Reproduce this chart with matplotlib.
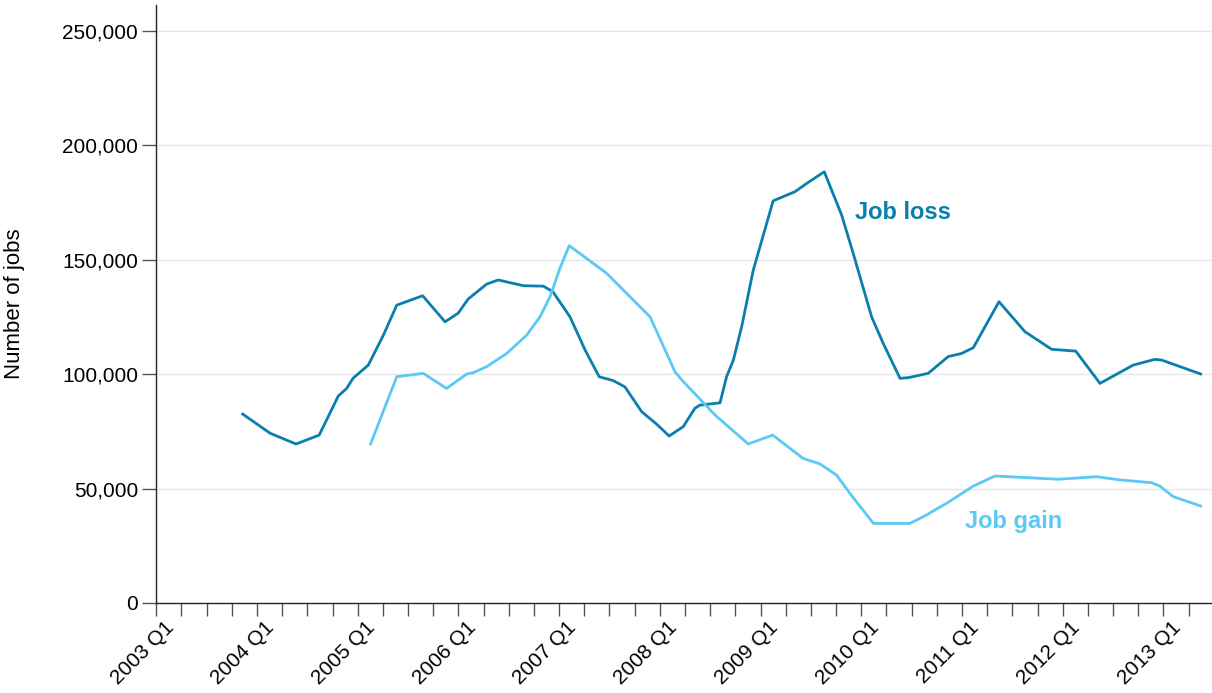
import matplotlib
matplotlib.use("Agg")
import matplotlib.pyplot as plt
from matplotlib.ticker import FuncFormatter
import matplotlib.transforms as mtransforms

plt.rcParams['font.family'] = ['Liberation Sans', 'DejaVu Sans']

# time axis: quarters since 2003 Q1 (points sit mid-quarter)
loss_t = [3.43, 4.52, 5.55, 6.47, 7.23, 7.56, 7.82, 8.42, 9.02, 9.55, 10.58, 11.47,
          11.99, 12.39, 13.12, 13.58, 14.58, 15.37, 15.75, 16.43, 17.03, 17.59, 18.15,
          18.61, 19.28, 19.87, 20.37, 20.93, 21.39, 21.59, 22.39, 22.65, 22.92, 23.25,
          23.71, 24.50, 25.37, 25.83, 26.53, 27.22, 27.68, 28.41, 28.87, 29.54, 29.87,
          30.66, 31.45, 31.99, 32.45, 33.47, 34.50, 35.56, 36.52, 37.48, 38.80, 39.66,
          39.93, 41.48]
loss_val = [82.6, 74.2, 69.5, 73.4, 90.5, 93.8, 98.3, 104.0, 117.1, 130.2, 134.3, 122.9,
            126.7, 132.9, 139.4, 141.2, 138.7, 138.5, 136.1, 125.1, 110.6, 98.9, 97.2,
            94.5, 83.6, 78.2, 73.0, 77.1, 85.1, 86.5, 87.5, 98.9, 106.2, 120.8,
            145.5, 175.8, 179.8, 183.4, 188.5, 169.6, 152.8, 125.1, 113.5, 98.2, 98.5,
            100.4, 107.7, 109.1, 111.6, 131.7, 118.6, 110.9, 110.1, 96.0, 104.0, 106.5,
            106.2, 100.1]

gain_t = [8.51, 9.55, 10.60, 11.53, 12.33, 12.59, 13.12, 13.92, 14.71, 15.24, 15.64,
          16.03, 16.40, 17.89, 19.61, 20.60, 20.87, 22.19, 23.51, 24.48, 25.69, 26.36,
          27.02, 27.55, 28.48, 29.93, 30.46, 31.39, 32.45, 33.31, 34.57, 35.82, 37.35,
          38.27, 39.53, 39.86, 40.39, 41.48]
gain_val = [69.5, 98.9, 100.4, 93.8, 100.1, 100.7, 103.3, 109.1, 117.1, 125.1, 133.9,
            146.3, 156.2, 144.1, 125.1, 101.1, 97.5, 82.2, 69.5, 73.4, 63.2, 60.8,
            55.9, 47.9, 34.8, 34.8, 37.7, 43.6, 51.1, 55.5, 54.8, 54.1, 55.2,
            53.8, 52.6, 51.1, 46.5, 42.4]

years = list(range(2003, 2014))
quarter_ticks = list(range(0, 42))
y_ticks = [0, 50000, 100000, 150000, 200000, 250000]

loss_color = '#0a7fad'
gain_color = '#5bc8f5'

fig = plt.figure(figsize=(12.12, 6.93), dpi=100)
ax_w = 1212 - 156.3
ax = fig.add_axes([156.3 / 1212, 90 / 693, ax_w / 1212, 598 / 693])

ax.plot(loss_t, [v * 1000 for v in loss_val], color=loss_color, lw=2.0, zorder=3)
ax.plot(gain_t, [v * 1000 for v in gain_val], color=gain_color, lw=2.0, zorder=3)

ax.set_xlim(0, 41.93)
ax.set_ylim(0, 261400)

ax.set_yticks(y_ticks)
ax.yaxis.set_major_formatter(FuncFormatter(lambda v, p: f"{int(v):,}"))
for yv in y_ticks[1:]:
    ax.axhline(yv, color='#e6e6e6', lw=1.0, zorder=1)

ax.set_xticks(quarter_ticks)
ax.set_xticklabels([])
label_tr = mtransforms.blended_transform_factory(ax.transData, ax.transAxes) + \
    mtransforms.ScaledTranslation(21 / 100, -15 / 100, fig.dpi_scale_trans)
for i, yr in enumerate(years):
    ax.text(i * 4, 0, f"{yr} Q1", transform=label_tr, rotation=45,
            ha='right', va='top', fontsize=15, clip_on=False)

ax.tick_params(axis='x', length=9, width=1, color='#555555')
ax.tick_params(axis='y', length=10, width=1, color='#555555', labelsize=15, pad=3)

for s in ['top', 'right']:
    ax.spines[s].set_visible(False)
for s in ['left', 'bottom']:
    ax.spines[s].set_color('#222222')
    ax.spines[s].set_linewidth(1.0)

ax.set_ylabel('Number of jobs', fontsize=16)
ax.yaxis.set_label_coords((25 - 156.3) / ax_w, 0.5)

ax.text(27.75, 170900, 'Job loss', color=loss_color, fontsize=17, fontweight='bold',
        ha='left', va='center')
ax.text(32.11, 35800, 'Job gain', color=gain_color, fontsize=17, fontweight='bold',
        ha='left', va='center')

fig.savefig('out.png', dpi=100)
